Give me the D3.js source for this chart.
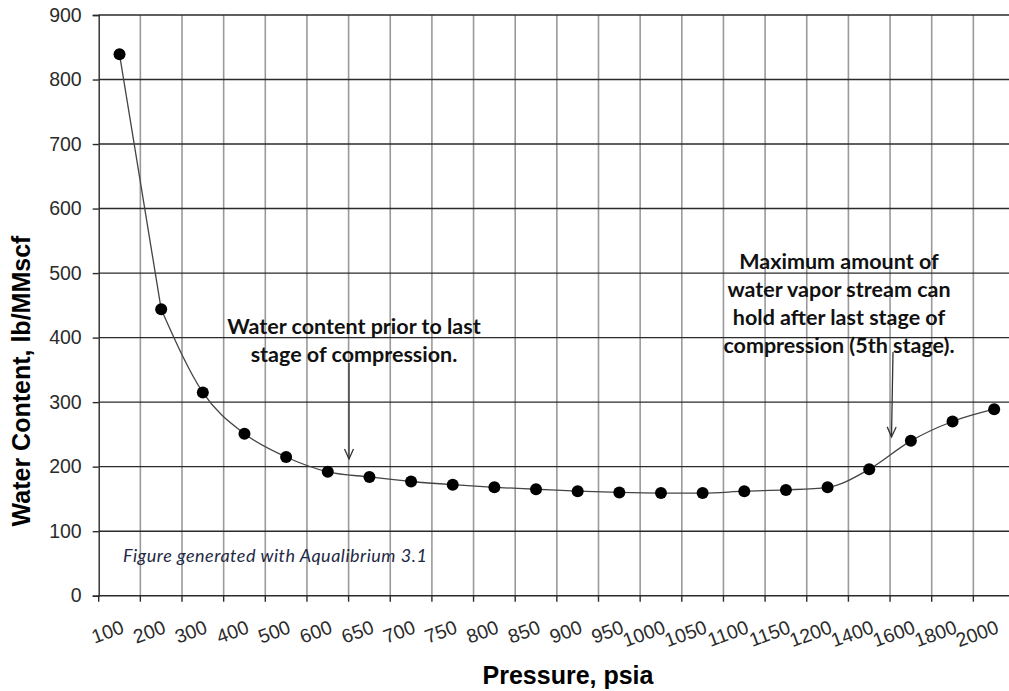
<!DOCTYPE html>
<html>
<head>
<meta charset="utf-8">
<script src="https://cdn.jsdelivr.net/npm/d3@7"></script>
<style>
  body { margin: 0; background: #fff; }
  svg { display: block; }
</style>
</head>
<body>
<div id="chart"></div>
<script>
// data
var pressures = ["100", "200", "300", "400", "500", "600", "650", "700", "750", "800", "850",
  "900", "950", "1000", "1050", "1100", "1150", "1200", "1400", "1600", "1800", "2000"];
var waterContent = [839, 444, 315, 251, 215, 192, 184, 177, 172, 168, 165,
  162, 160, 159, 159, 162, 164, 168, 196, 240, 270, 289];
var yTicks = [0, 100, 200, 300, 400, 500, 600, 700, 800, 900];

var svgWidth = 1009;
var svgHeight = 691;

var margin = { top: 15, left: 98.7 };
var width = 1015 - margin.left;
var height = 595.7 - margin.top;

var svg = d3.select("#chart")
  .append("svg")
  .attr("width", svgWidth)
  .attr("height", svgHeight);

var chartGroup = svg.append("g")
  .attr("transform", `translate(${margin.left}, ${margin.top})`);

var xScale = d3.scaleBand()
  .domain(pressures)
  .range([0, width]);

var yScale = d3.scaleLinear()
  .domain([0, 900])
  .range([height, 0]);

// vertical grid (band boundaries)
chartGroup.selectAll(".vgrid")
  .data(pressures.slice(1))
  .enter()
  .append("line")
  .attr("x1", d => xScale(d))
  .attr("x2", d => xScale(d))
  .attr("y1", 0)
  .attr("y2", height)
  .attr("stroke", "#9a9a9a")
  .attr("stroke-width", 1.6);

// horizontal grid
chartGroup.selectAll(".hgrid")
  .data(yTicks)
  .enter()
  .append("line")
  .attr("x1", 0)
  .attr("x2", width)
  .attr("y1", d => yScale(d))
  .attr("y2", d => yScale(d))
  .attr("stroke", "#2a2a2a")
  .attr("stroke-width", 1.4);

// y axis
var leftAxis = d3.axisLeft(yScale)
  .tickValues(yTicks)
  .tickSize(6)
  .tickPadding(11);

var yAxis = chartGroup.append("g").call(leftAxis);
yAxis.select(".domain").attr("stroke", "#2a2a2a").attr("stroke-width", 1.4);
yAxis.selectAll(".tick line").attr("stroke", "#2a2a2a").attr("stroke-width", 1.4);
yAxis.selectAll("text")
  .attr("font-family", "Liberation Sans, Arial, sans-serif")
  .attr("font-size", "19.5px")
  .attr("fill", "#2b2b2b");

// x axis: ticks on band edges, labels at band centres
var xTickGroup = chartGroup.append("g")
  .attr("transform", `translate(0, ${height})`);

xTickGroup.selectAll("line")
  .data(pressures.concat(["end"]))
  .enter()
  .append("line")
  .attr("x1", (d, i) => i * xScale.bandwidth())
  .attr("x2", (d, i) => i * xScale.bandwidth())
  .attr("y1", 0)
  .attr("y2", 6)
  .attr("stroke", "#2a2a2a")
  .attr("stroke-width", 1.4);

xTickGroup.selectAll("text")
  .data(pressures)
  .enter()
  .append("text")
  .attr("transform", d => `translate(${xScale(d) + xScale.bandwidth() / 2 + 1}, 24) rotate(-20)`)
  .attr("text-anchor", "end")
  .attr("dy", "0.7em")
  .attr("font-family", "Liberation Sans, Arial, sans-serif")
  .attr("font-size", "19.5px")
  .attr("fill", "#2b2b2b")
  .text(d => d);

// line + markers
var points = waterContent.map((v, i) => ({ p: pressures[i], v: v }));

var straight = d3.line()
  .x(d => xScale(d.p) + xScale.bandwidth() / 2)
  .y(d => yScale(d.v));

var smooth = d3.line()
  .x(d => xScale(d.p) + xScale.bandwidth() / 2)
  .y(d => yScale(d.v))
  .curve(d3.curveMonotoneX);

// first drop is drawn straight, the rest smoothed
chartGroup.append("path")
  .datum(points.slice(0, 2))
  .attr("d", straight)
  .attr("fill", "none")
  .attr("stroke", "#444")
  .attr("stroke-width", 1.3);

chartGroup.append("path")
  .datum(points.slice(1))
  .attr("d", smooth)
  .attr("fill", "none")
  .attr("stroke", "#444")
  .attr("stroke-width", 1.3);

chartGroup.selectAll("circle")
  .data(points)
  .enter()
  .append("circle")
  .attr("cx", d => xScale(d.p) + xScale.bandwidth() / 2)
  .attr("cy", d => yScale(d.v))
  .attr("r", 6)
  .attr("fill", "#000");

// axis titles
svg.append("text")
  .attr("transform", "translate(30, 381) rotate(-90)")
  .attr("text-anchor", "middle")
  .attr("font-family", "Liberation Sans, Arial, sans-serif")
  .attr("font-weight", "bold")
  .attr("font-size", "25px")
  .attr("fill", "#000")
  .text("Water Content, lb/MMscf");

svg.append("text")
  .attr("x", 568)
  .attr("y", 684)
  .attr("text-anchor", "middle")
  .attr("font-family", "Liberation Sans, Arial, sans-serif")
  .attr("font-weight", "bold")
  .attr("font-size", "25px")
  .attr("fill", "#000")
  .text("Pressure, psia");

// footnote
svg.append("text")
  .attr("x", 123)
  .attr("y", 562)
  .attr("font-family", "Lato, Open Sans, sans-serif")
  .attr("font-style", "italic")
  .attr("font-size", "18px")
  .attr("letter-spacing", "0.5px")
  .attr("fill", "#1f2a44")
  .text("Figure generated with Aqualibrium 3.1");

// annotations
function annotate(lines, cx, y0, step) {
  var t = svg.append("text")
    .attr("text-anchor", "middle")
    .attr("font-family", "Lato, Open Sans, sans-serif")
    .attr("font-weight", "bold")
    .attr("font-size", "21.5px")
    .attr("fill", "#111");
  lines.forEach(function(s, i) {
    t.append("tspan").attr("x", cx).attr("y", y0 + i * step).text(s);
  });
}

annotate(["Water content prior to last", "stage of compression."], 354, 334, 28);
annotate(["Maximum amount of", "water vapor stream can", "hold after last stage of",
  "compression (5th stage)."], 839, 269, 28);

function arrow(x1, y1, x2, y2) {
  svg.append("line")
    .attr("x1", x1).attr("y1", y1).attr("x2", x2).attr("y2", y2)
    .attr("stroke", "#333").attr("stroke-width", 1.3);
  var a = Math.atan2(y2 - y1, x2 - x1);
  var len = 11, spread = 0.42;
  svg.append("path")
    .attr("d", `M${x2 - len * Math.cos(a - spread)},${y2 - len * Math.sin(a - spread)}L${x2},${y2}L${x2 - len * Math.cos(a + spread)},${y2 - len * Math.sin(a + spread)}`)
    .attr("fill", "none")
    .attr("stroke", "#333")
    .attr("stroke-width", 1.3);
}

arrow(349, 363, 349, 459);
arrow(893, 352, 891.5, 437);
</script>
</body>
</html>
